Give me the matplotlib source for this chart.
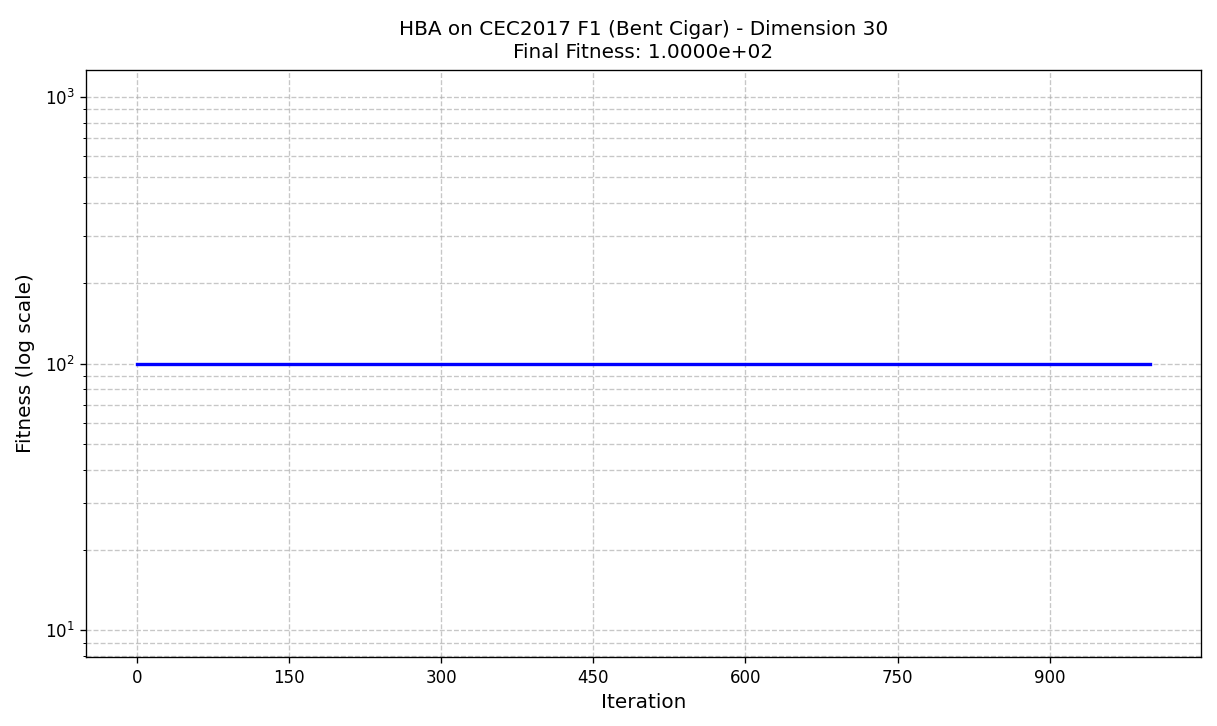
import matplotlib
matplotlib.use("Agg")
import matplotlib.pyplot as plt

# convergence curve: best fitness stays at 100 for all 1000 iterations
iterations = list(range(1000))
fitness = [100.0] * 1000
xtick_values = [0, 150, 300, 450, 600, 750, 900]

fig = plt.figure(figsize=(1217 / 120, 726 / 120), dpi=120)
ax = fig.add_axes([0.0707, 0.095, 0.916, 0.8085])

ax.semilogy(iterations, fitness, color="blue", linewidth=2)
ax.set_xticks(xtick_values)
ax.set_title("HBA on CEC2017 F1 (Bent Cigar) - Dimension 30\nFinal Fitness: 1.0000e+02",
             fontsize=12, linespacing=1.3, pad=7)
ax.set_xlabel("Iteration", fontsize=12)
ax.set_ylabel("Fitness (log scale)", fontsize=12, labelpad=6)
ax.grid(True, which="both", linestyle="--", alpha=0.7)

fig.savefig("out.png", dpi=120)
